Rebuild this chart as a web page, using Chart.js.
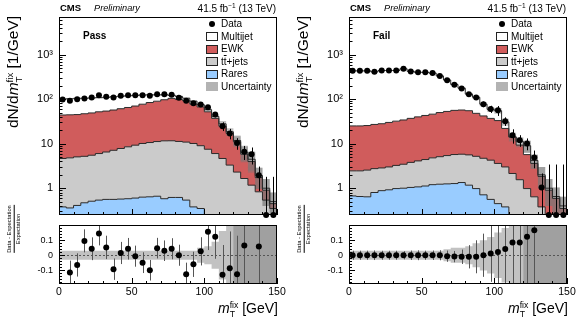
<!DOCTYPE html>
<html>
<head>
<meta charset="utf-8">
<title>mT fix - pass / fail</title>
<script src="https://cdn.jsdelivr.net/npm/chart.js@4.4.1/dist/chart.umd.min.js"></script>
<style>
  body { margin: 0; background: #fff; }
  #page { position: relative; width: 580px; height: 326px; overflow: hidden;
          font-family: "Liberation Sans", Arial, Helvetica, sans-serif; color: #000; }
  #page canvas { position: absolute; }
  .txt { position: absolute; white-space: nowrap; line-height: 1; }
  .rot { transform-origin: 0 0; transform: rotate(-90deg) translate(-50%, -50%); text-align: center; }
  .ss { display: inline-block; vertical-align: -0.42em; font-size: 0.62em; line-height: 0.95; text-align: left; }
  .ss span { display: block; }
  .box { position: absolute; box-sizing: border-box; }
</style>
</head>
<body>
<div id="page">
  <canvas id="passTop" width="290" height="222" style="left:0px;top:0px"></canvas>
  <canvas id="passRatio" width="290" height="104" style="left:0px;top:222px"></canvas>
  <canvas id="failTop" width="290" height="222" style="left:290px;top:0px"></canvas>
  <canvas id="failRatio" width="290" height="104" style="left:290px;top:222px"></canvas>
</div>
<script>
// 30 bins of 5 GeV, 0-150 GeV
const binWidth = 5;
const nBins = 30;
const binEdges = Array.from({ length: nBins + 1 }, (_, i) => i * binWidth);
const binCenters = binEdges.slice(0, nBins).map(e => e + binWidth / 2);

const xTickLabels = [0, 50, 100, 150];
const yTickLabels = [1, 10, 100, 1000];
const ratioTickLabels = [-0.1, 0, 0.1];
const legendLabels = ['Data', 'Multijet', 'EWK', 't<span style="text-decoration:overline">t</span>+jets', 'Rares', 'Uncertainty'];

// Pass region (events / GeV)
const passData = [98, 92, 100, 104, 109, 123, 113, 109, 119, 123, 123, 123, 119, 129, 129, 125, 108, 92, 81, 76, 66, 45, 24.7, 17, 10.3, 6.6, 5.8, 1.96, 0, 0];
const passDataErr = [8, 8, 8, 8, 8, 8.5, 8.5, 8, 8.5, 8.5, 8.5, 8.5, 8.5, 8.5, 8.5, 8.5, 8, 8, 7.5, 7, 7, 6, 5.5, 4.5, 3, 2.3, 2.4, 1.1, 1.8, 1.8];
const passRares = [0.38, 0.36, 0.41, 0.47, 0.51, 0.54, 0.56, 0.56, 0.57, 0.58, 0.6, 0.63, 0.64, 0.66, 0.58, 0.62, 0.62, 0.54, 0.38, 0.35, 0.2, 0.15, 0.1, 0.08, 0.05, 0.04, 0.03, 0.02, 0.01, 0.01];
const passTT = [4.27, 4.44, 4.64, 4.73, 4.99, 5.46, 5.94, 6.54, 7.23, 7.92, 8.65, 9.47, 9.96, 10.5, 11.0, 11.0, 10.6, 10.3, 9.72, 8.65, 7.3, 5.85, 4.55, 3.22, 2.25, 1.61, 1.14, 0.81, 0.53, 0.34];
const passEWK = [39.4, 39.7, 40, 41.8, 43.5, 46, 47.5, 49.9, 53.2, 56.5, 60.8, 66.9, 73.4, 78.8, 85.4, 92.4, 86.8, 81.2, 66.9, 58, 44.5, 31, 20, 13.7, 8.7, 4.15, 2.8, 0.9, 0.36, 0.1];
const passMultijet = [56, 57.5, 59, 58, 57, 56, 56, 56, 55, 54, 52, 47, 41, 35, 28, 18, 17, 13, 13, 8, 6, 4, 3.3, 1.5, 0.8, 0.6, 0.5, 0.2, 0.1, 0.05];
const passUnc = [0.03, 0.03, 0.03, 0.03, 0.03, 0.03, 0.03, 0.03, 0.03, 0.03, 0.03, 0.03, 0.03, 0.03, 0.03, 0.03, 0.03, 0.03, 0.03, 0.05, 0.06, 0.09, 0.16, 0.2, 0.25, 0.35, 0.45, 0.5, 0.6, 0.6];
const passUnc2 = [0, 0, 0, 0, 0, 0, 0, 0, 0, 0, 0, 0, 0, 0, 0, 0, 0, 0, 0, 0, 0, 0, 0, 0, 0.3, 0.4, 0.5, 0.5, 0.6, 0.6];
const passRatio = [null, -0.114, -0.064, 0.095, 0.043, 0.144, 0.052, -0.092, 0.015, 0.043, -0.006, -0.049, -0.099, 0.047, 0.03, 0.043, 0.0, -0.125, -0.06, 0.026, 0.155, 0.123, -0.129, -0.086, -0.125, 0.065, null, 0.058, null, null];

// Fail region (events / GeV)
const failData = [432, 432, 432, 411, 440, 440, 440, 480, 420, 400, 400, 385, 332, 267, 210, 174, 129, 109, 77, 60, 56, 32, 15.5, 12, 10.1, 4.9, 1.04, 0, 0, 0];
const failDataErr = [13, 13, 13, 13, 13, 13, 13, 13, 13, 13, 12, 12, 11, 10, 8, 8.4, 10, 12, 11, 11, 14, 7, 5.5, 3.5, 3, 2.1, 1.1, 3.4, 3.4, 3.4];
const failRares = [0.67, 0.65, 0.64, 0.8, 0.88, 0.92, 0.98, 1.0, 1.04, 1.07, 1.12, 1.2, 1.23, 1.25, 1.27, 1.34, 1.17, 0.98, 0.71, 0.56, 0.45, 0.38, 0.2, 0.15, 0.1, 0.07, 0.05, 0.03, 0.02, 0.01];
const failTT = [1.78, 1.8, 1.91, 1.95, 1.97, 2.08, 2.27, 2.45, 2.76, 3.03, 3.28, 3.6, 3.87, 4.15, 4.43, 4.46, 4.43, 4.22, 3.99, 3.7, 3.15, 2.62, 1.94, 1.4, 0.88, 0.57, 0.33, 0.19, 0.13, 0.09];
const failEWK = [22.6, 22.6, 23, 24.3, 25.2, 27, 28.8, 30.6, 33.2, 35.9, 38.6, 41.2, 44.9, 47.6, 50.3, 51.2, 49.4, 42.8, 37.3, 32.7, 29.4, 19, 11.9, 7.75, 4.7, 2.96, 1.46, 0.68, 0.44, 0.25];
const failMultijet = [407, 407, 406, 384, 412, 410, 408, 446, 383, 360, 357, 339, 282, 216, 158, 119, 75, 62, 35, 22, 22, 8.7, 0.3, 1.8, 3.3, 0.6, 0.16, 0.1, 0.06, 0.05];
const failUnc = [0.03, 0.03, 0.03, 0.03, 0.03, 0.03, 0.03, 0.03, 0.03, 0.03, 0.03, 0.03, 0.03, 0.04, 0.05, 0.05, 0.06, 0.08, 0.1, 0.12, 0.15, 0.18, 0.22, 0.25, 0.3, 0.35, 0.5, 0.6, 0.6, 0.6];
const failUnc2 = [0, 0, 0, 0, 0, 0, 0, 0, 0, 0, 0, 0, 0, 0, 0, 0, 0, 0, 0, 0, 0, 0, 0, 0, 0.3, 0.35, 0.5, 0.6, 0.6, 0.6];
const failRatio = [0, 0, 0, 0, 0, 0, 0, 0, 0, 0, 0, 0, 0, -0.006, -0.009, -0.01, -0.01, -0.01, 0, 0.011, 0.022, 0.041, 0.084, 0.084, 0.123, 0.166, null, null, null, null];

const colRares = '#99ccff';
const colTT = '#cbcbcb';
const colEWK = '#d05c5c';
const colUnc = 'rgba(120,120,120,0.45)';
const yMin = 0.25, yMax = 7000;
const rMin = -0.19, rMax = 0.2;
const fontFamily = '"Liberation Sans", Arial, sans-serif';

// step-histogram points on the bin edges (last value repeated at 150)
const steps = vals => binEdges.map((x, i) => ({ x, y: vals[Math.min(i, nBins - 1)] }));

function cumulative(parts) {
    let run = new Array(nBins).fill(0);
    return parts.map(p => (run = run.map((v, i) => v + p[i])));
}

function stackSet(vals, color, fill, order) {
    return { data: steps(vals), stepped: true, fill, backgroundColor: color, borderColor: '#2a2a2a',
             borderWidth: 1, pointRadius: 0, order };
}
function bandEdge(vals, order) {
    return { data: steps(vals), stepped: true, fill: false, borderColor: 'rgba(0,0,0,0)', borderWidth: 1, pointRadius: 0, order };
}
function bandFill(vals, order) {
    return { data: steps(vals), stepped: true, fill: '-1', backgroundColor: colUnc, borderColor: 'rgba(0,0,0,0)', borderWidth: 1, pointRadius: 0, order };
}
function pointSet(vals) {
    return { data: binCenters.map((x, i) => ({ x, y: vals[i] })), showLine: false, pointRadius: 3,
             pointBackgroundColor: '#000', pointBorderWidth: 0, pointHoverRadius: 0, order: 0, clip: 4 };
}

// frame, inward ticks, error bars and zero line
const hepFrame = {
    id: 'hepFrame',
    beforeDatasetDraw(chart, args, opts) {
        if (args.index !== chart.data.datasets.length - 1) return;
        const { ctx, chartArea: a, scales: { x, y } } = chart;
        ctx.save();
        ctx.beginPath();
        ctx.rect(a.left, a.top, a.right - a.left, a.bottom - a.top);
        ctx.clip();
        ctx.lineWidth = 1;
        if (opts.zeroLine) {
            const py = Math.round(y.getPixelForValue(0)) + 0.5;
            ctx.setLineDash([2, 2]);
            ctx.strokeStyle = '#555';
            ctx.beginPath(); ctx.moveTo(a.left, py); ctx.lineTo(a.right, py); ctx.stroke();
            ctx.setLineDash([]);
        }
        ctx.strokeStyle = opts.errColor;
        ctx.beginPath();
        opts.errors.forEach(([xv, lo, hi]) => {
            const px = Math.round(x.getPixelForValue(xv)) + 0.5;
            ctx.moveTo(px, y.getPixelForValue(lo));
            ctx.lineTo(px, y.getPixelForValue(hi));
        });
        ctx.stroke();
        ctx.restore();
    },
    afterDatasetsDraw(chart, args, opts) {
        const { ctx, chartArea: a, scales: { x, y } } = chart;
        ctx.save();
        ctx.strokeStyle = '#000';
        ctx.lineWidth = 1;
        ctx.beginPath();
        for (let v = 0; v <= 150; v += 10) {
            const px = Math.round(x.getPixelForValue(v)) + 0.5;
            ctx.moveTo(px, a.bottom);
            ctx.lineTo(px, a.bottom - (v % 50 === 0 ? 6 : 3));
        }
        opts.yTicks.forEach(([v, len]) => {
            const py = Math.round(y.getPixelForValue(v)) + 0.5;
            ctx.moveTo(a.left, py);
            ctx.lineTo(a.left + len, py);
        });
        ctx.stroke();
        ctx.strokeRect(Math.round(a.left) + 0.5, Math.round(a.top) + 0.5,
                       Math.round(a.right - a.left) - 1, Math.round(a.bottom - a.top) - 1);
        ctx.restore();
    }
};
Chart.register(hepFrame);

const logTicks = [];
for (let k = -1; k <= 3; k++) {
    for (let m = 1; m < 10; m++) {
        const v = m * Math.pow(10, k);
        if (v >= yMin && v <= yMax) logTicks.push([v, m === 1 ? 7 : 3.5]);
    }
}
const ratioTicks = [];
for (let k = -9; k <= 10; k++) ratioTicks.push([k * 0.02, k % 5 === 0 ? 6 : 3]);

const sup = { 2: '\u00b2', 3: '\u00b3' };
const noPad = s => { s.paddingTop = 0; s.paddingBottom = 0; s.paddingLeft = 0; s.paddingRight = 0; };

function drawTop(id, data, dataErr, parts, unc, unc2) {
    const [rares, tt, ewk, total] = cumulative(parts);
    const errors = binCenters.map((xv, i) => [xv, Math.max(data[i] - dataErr[i], yMin * 0.9), data[i] + dataErr[i]]);
    new Chart(document.getElementById(id), {
        type: 'line',
        data: {
            datasets: [
                stackSet(rares, colRares, 'start', 9),
                stackSet(tt, colTT, '-1', 8),
                stackSet(ewk, colEWK, '-1', 7),
                stackSet(total, '#ffffff', '-1', 6),
                bandEdge(total.map((v, i) => v * (1 - unc[i])), 5),
                bandFill(total.map((v, i) => v * (1 + unc[i])), 4),
                bandEdge(total.map((v, i) => v * (1 - unc2[i])), 3),
                bandFill(total.map((v, i) => v * (1 + unc2[i])), 2),
                pointSet(data.map(v => Math.max(v, yMin)))
            ]
        },
        options: {
            responsive: false,
            animation: false,
            events: [],
            layout: { padding: { top: 17, right: 13, bottom: 7, left: 0 } },
            plugins: {
                legend: { display: false },
                tooltip: { enabled: false },
                filler: { drawTime: 'beforeDatasetsDraw' },
                hepFrame: { errors, errColor: '#000', yTicks: logTicks, zeroLine: false }
            },
            scales: {
                x: { type: 'linear', min: 0, max: 150, display: false },
                y: {
                    type: 'logarithmic', min: yMin, max: yMax,
                    grid: { display: false, drawTicks: false },
                    border: { display: false },
                    afterBuildTicks: s => { s.ticks = yTickLabels.map(v => ({ value: v })); },
                    afterFit: s => { s.width = 59; noPad(s); },
                    ticks: {
                        padding: 6, color: '#000', font: { family: fontFamily, size: 11 },
                        callback: v => v < 100 ? String(v) : '10' + sup[Math.round(Math.log10(v))]
                    }
                }
            }
        }
    });
    return total;
}

function drawRatio(id, ratio, dataErr, total, unc, unc2) {
    const errors = [];
    ratio.forEach((r, i) => {
        if (r === null) return;
        const e = dataErr[i] / total[i];
        errors.push([binCenters[i], r - e, r + e]);
    });
    new Chart(document.getElementById(id), {
        type: 'line',
        data: {
            datasets: [
                bandEdge(unc.map(u => -u), 5),
                bandFill(unc, 4),
                bandEdge(unc2.map(u => -u), 3),
                bandFill(unc2, 2),
                pointSet(ratio)
            ]
        },
        options: {
            responsive: false,
            animation: false,
            events: [],
            layout: { padding: { top: 3, right: 13, bottom: 0, left: 0 } },
            plugins: {
                legend: { display: false },
                tooltip: { enabled: false },
                filler: { drawTime: 'beforeDatasetsDraw' },
                hepFrame: { errors, errColor: '#555', yTicks: ratioTicks, zeroLine: true }
            },
            scales: {
                x: {
                    type: 'linear', min: 0, max: 150,
                    grid: { display: false, drawTicks: false },
                    border: { display: false },
                    afterBuildTicks: s => { s.ticks = xTickLabels.map(v => ({ value: v })); },
                    afterFit: s => { s.height = 42; noPad(s); },
                    ticks: { padding: 2, color: '#000', maxRotation: 0, autoSkip: false,
                             font: { family: fontFamily, size: 10.5 } }
                },
                y: {
                    type: 'linear', min: rMin, max: rMax,
                    grid: { display: false, drawTicks: false },
                    border: { display: false },
                    afterBuildTicks: s => { s.ticks = ratioTickLabels.map(v => ({ value: v })); },
                    afterFit: s => { s.width = 59; noPad(s); },
                    ticks: { padding: 6, color: '#000', font: { family: fontFamily, size: 9 },
                             callback: v => v === 0 ? '0' : (v < 0 ? '-' : '') + Math.abs(v) }
                }
            }
        }
    });
}

const passTotal = drawTop('passTop', passData, passDataErr, [passRares, passTT, passEWK, passMultijet], passUnc, passUnc2);
drawRatio('passRatio', passRatio, passDataErr, passTotal, passUnc, passUnc2);
const failTotal = drawTop('failTop', failData, failDataErr, [failRares, failTT, failEWK, failMultijet], failUnc, failUnc2);
drawRatio('failRatio', failRatio, failDataErr, failTotal, failUnc, failUnc2);

// text labels
const page = document.getElementById('page');
function addText(html, css) {
    const d = document.createElement('div');
    d.className = 'txt';
    d.innerHTML = html;
    Object.assign(d.style, css);
    page.appendChild(d);
    return d;
}
function addBox(x, y, w, h, css) {
    const d = document.createElement('div');
    d.className = 'box';
    d.style.cssText = `left:${x}px;top:${y}px;width:${w}px;height:${h}px;${css}`;
    page.appendChild(d);
}

function panelText(ox, region) {
    addText('CMS', { left: ox + 60 + 'px', top: '3px', fontSize: '9.5px', fontWeight: 'bold' });
    addText('Preliminary', { left: ox + 94 + 'px', top: '3.5px', fontSize: '9.2px', fontStyle: 'italic' });
    addText('41.5 fb<sup style="font-size:0.65em">\u22121</sup> (13 TeV)', { right: (580 - ox - 276) + 'px', top: '3px', fontSize: '10px' });
    addText(region, { left: ox + 83 + 'px', top: '31px', fontSize: '10px', fontWeight: 'bold' });

    const rowY = [24, 36.5, 49, 61.5, 74, 86.5];
    const fills = [null, '#ffffff', colEWK, colTT, colRares, '#b3b3b3'];
    legendLabels.forEach((lab, i) => {
        const cy = rowY[i];
        if (i === 0) addBox(ox + 208.5, cy - 3, 6, 6, 'background:#000;border-radius:50%');
        else if (i === 5) addBox(ox + 206, cy - 4.5, 12, 9, 'background:' + fills[i]);
        else addBox(ox + 206, cy - 4.5, 12, 9, 'background:' + fills[i] + ';border:1px solid #222');
        addText(lab, { left: ox + 221 + 'px', top: (cy - 5) + 'px', fontSize: '10px' });
    });

    addText('dN/d<i>m</i><span class="ss"><span>fix</span><span>T</span></span> [1/GeV]',
            { left: ox + 13.5 + 'px', top: '72px', fontSize: '15.5px' }).classList.add('rot');
    addText('<div>Data - Expectation</div><div style="border-top:0.8px solid #000;margin-top:1px;padding-top:1px">Expectation</div>',
            { left: ox + 14 + 'px', top: '229px', fontSize: '5.8px' }).classList.add('rot');
    addText('<i>m</i><span class="ss"><span>fix</span><span>T</span></span> [GeV]',
            { right: (580 - ox - 278) + 'px', top: '301px', fontSize: '14px' });
}
panelText(0, 'Pass');
panelText(290, 'Fail');
</script>
</body>
</html>
